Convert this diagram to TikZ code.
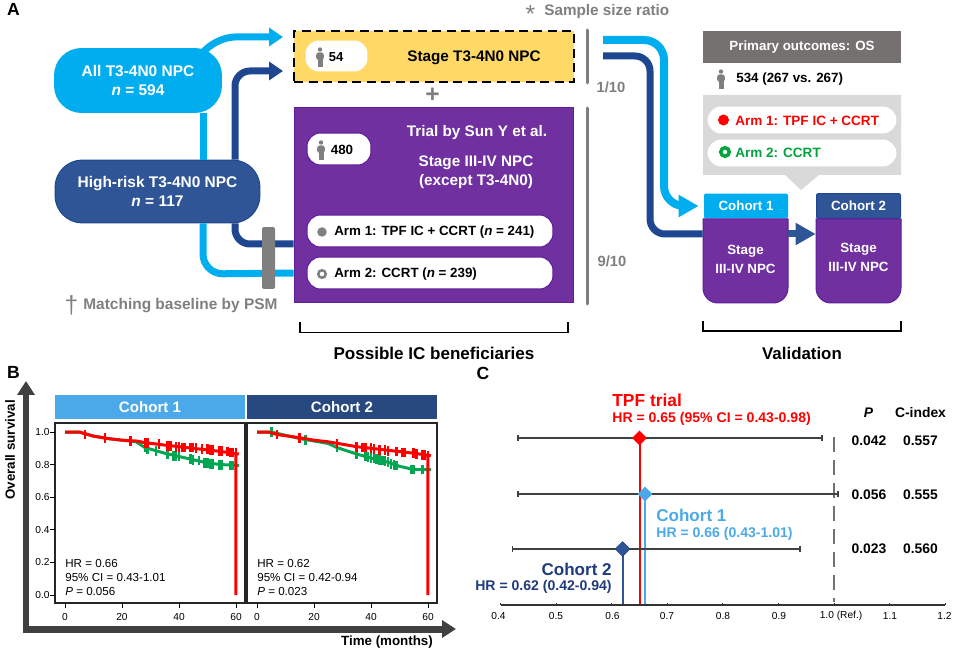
\documentclass[tikz,border=0pt]{standalone}
\usepackage{fontspec}
\setmainfont{Liberation Sans}
\usetikzlibrary{calc,arrows.meta,shapes.geometric}

\definecolor{allblue}{HTML}{00AEEF}
\definecolor{riskblue}{HTML}{2F5597}
\definecolor{riskedge}{HTML}{1F4690}
\definecolor{trialpurple}{HTML}{7030A0}
\definecolor{purpleedge}{HTML}{5E1D9B}
\definecolor{sizeyellow}{HTML}{FFD966}
\definecolor{midgray}{HTML}{7F7F7F}
\definecolor{headgray}{HTML}{767171}
\definecolor{palegray}{HTML}{D9D9D9}
\definecolor{axisgray}{HTML}{404040}
\definecolor{armgreen}{HTML}{00A33E}
\definecolor{kmgreen}{HTML}{00A651}
\definecolor{skyblue}{HTML}{4BA9EA}
\definecolor{navyblue}{HTML}{1F3A7D}

\tikzset{
    txt/.style={font=\bfseries\fontsize{#1}{10.8}\selectfont, inner sep=0pt},
    reg/.style={font=\fontsize{#1}{8}\selectfont, inner sep=0pt},
    pill/.style={draw=#1, line width=0.02cm, fill=white, rounded corners=0.27cm, inner sep=0pt},
    flowall/.style={draw=allblue, line width=0.14cm, rounded corners=0.4cm},
    flowrisk/.style={draw=riskedge, line width=0.14cm, rounded corners=0.3cm},
    headall/.style={-{Triangle[length=0.28cm,width=0.36cm]}},
    headbig/.style={-{Triangle[length=0.4cm,width=0.42cm]}},
    bar/.style={midgray, line width=0.06cm, line cap=round},
    brace/.style={black, line width=0.03cm},
    whisker/.style={axisgray, line width=0.035cm, {Bar[width=0.13cm]}-{Bar[width=0.13cm]}},
    kmline/.style={line width=0.06cm},
    kmtick/.style={line width=0.05cm},
    person/.pic={
        \fill[midgray] (0,-7.5) circle (2.2);
        \fill[midgray, rounded corners=0.05cm] (-3.8,-4.5) rectangle (3.8,3);
        \fill[midgray] (-2.5,2) rectangle (2.5,10.5);
    },
}

\begin{document}
\begin{tikzpicture}[x=0.02cm,y=-0.02cm]
    \useasboundingbox (0,0) rectangle (957,655);

    % panel A, flows go first
    \coordinate (lightrun) at (203,0);
    \coordinate (darkrun) at (235,0);
    \coordinate (armarow) at (0,244);
    \coordinate (armbrow) at (0,273);
    \coordinate (toplight) at (283,37);
    \coordinate (topdark) at (283,71);
    \coordinate (ratiolight) at (603,40);
    \coordinate (ratiodark) at (603,56);
    \coordinate (validrow) at (0,234);

    \node[minimum width=3.36cm, minimum height=1.3cm, fill=allblue, rounded corners=0.55cm, text=white, txt=8.8, align=center] (allpill) at (138,80.5) {All T3-4N0 NPC\\\textit{n} = 594};
    \node[minimum width=4.1cm, minimum height=1.26cm, fill=riskblue, draw=riskedge, line width=0.02cm, rounded corners=0.55cm, text=white, txt=8.8, align=center] (highpill) at (157.5,191.5) {High-risk T3-4N0 NPC\\\textit{n} = 117};
    \node[minimum width=5.6cm, minimum height=3.92cm, fill=trialpurple, draw=purpleedge, line width=0.02cm] (trialbox) at (434,205) {};
    \node[minimum width=5.6cm, minimum height=1.02cm, fill=sizeyellow, draw=black, line width=0.05cm, dash pattern=on 0.18cm off 0.11cm] (sizebox) at (434,56.5) {};

    \draw[flowall] (allpill.south -| lightrun) -- (highpill.north -| lightrun);
    \draw[flowall] (highpill.south -| lightrun) -- (203,274) -- (trialbox.west |- armbrow);
    \draw[flowall, headall] (205,50) -- (215,37) -- (toplight);
    \draw[flowrisk, headall, fill=none] (highpill.north -| darkrun) -- (235,71) -- (topdark);
    \draw[flowrisk] (highpill.south -| darkrun) -- (235,244) -- (trialbox.west |- armarow);

    \node[minimum width=0.26cm, minimum height=1.24cm, fill=midgray, rounded corners=0.04cm] (psmbar) at (268.5,258) {};

    \node[txt=8.8, text=midgray, anchor=west] (psmtext) at (83,306) {Matching baseline by PSM};
    \node[font=\fontsize{14}{14}\selectfont, inner sep=0pt, text=midgray] (psmmark) at (71.5,305) {†};

    \node[pill=sizeyellow, minimum width=1.26cm, minimum height=0.64cm] (sizepill) at (336.5,56) {};
    \pic at (320,57) {person};
    \node[txt=7.4] (sizecount) at (336,57) {54};
    \node[txt=8.7] (sizetext) at (474,57.5) {Stage T3-4N0 NPC};
    \node[txt=14, text=midgray] (plusmark) at (432.5,95.5) {+};

    \node[pill=purpleedge, minimum width=1.28cm, minimum height=0.64cm] (trialpill) at (339,149) {};
    \pic at (321,150) {person};
    \node[txt=7.6] (trialcount) at (342,150) {480};
    \node[txt=8.7, text=white] (trialname) at (477,133) {Trial by Sun Y et al.};
    \node[txt=8.7, text=white, align=center] (trialstage) at (476,172) {Stage III-IV NPC\\(except T3-4N0)};

    \node[pill=purpleedge, minimum width=4.92cm, minimum height=0.64cm] (armapill) at (430,231) {};
    \node[pill=purpleedge, minimum width=4.92cm, minimum height=0.64cm] (armbpill) at (430,273) {};
    \node[circle, fill=midgray, minimum size=0.19cm, inner sep=0pt] (armadot) at (322,232) {};
    \node[circle, draw=midgray, line width=0.05cm, fill=white, minimum size=0.15cm, inner sep=0pt] (armbdot) at (322,274) {};
    \node[txt=7.6, anchor=west] (armatext) at (334,232.5) {Arm 1: TPF IC + CCRT (\textit{n} = 241)};
    \node[txt=7.6, anchor=west] (armbtext) at (334,274.5) {Arm 2: CCRT (\textit{n} = 239)};

    \draw[brace] (300,322) -- (300,332.5) -- (568,332.5) -- (568,322);
    \node[txt=9.7] (possibletext) at (434,353) {Possible IC beneficiaries};

    \node[font=\fontsize{14}{14}\selectfont, inner sep=0pt, text=midgray] (ratiomark) at (530.5,14) {*};
    \node[txt=8.7, text=midgray, anchor=west] (ratiotext) at (544,12) {Sample size ratio};
    \draw[bar] (587,30) -- (587,83);
    \draw[bar] (587,108) -- (587,304);
    \node[txt=8.4, text=midgray] (ratioa) at (611,87.5) {1/10};
    \node[txt=8.4, text=midgray] (ratiob) at (612,261.5) {9/10};

    % outcome card
    \fill[palegray] (703,95) rectangle (901,175) (785,175) -- (801,190) -- (819,175) -- cycle;
    \node[minimum width=3.96cm, minimum height=0.64cm, fill=headgray, text=white, txt=7.6] (outhead) at (802,47) {Primary outcomes: OS};
    \node[minimum width=3.94cm, minimum height=0.62cm, fill=white] (outrow) at (802,79) {};
    \pic at (721,79) {person};
    \node[txt=7.6, anchor=west] (outcount) at (736,79.5) {534 (267 vs. 267)};
    \node[pill=white, minimum width=3.76cm, minimum height=0.52cm] (outa) at (802,120) {};
    \node[pill=white, minimum width=3.76cm, minimum height=0.52cm] (outb) at (802,153) {};
    \node[circle, fill=red, minimum size=0.22cm, inner sep=0pt] (outadot) at (723.5,120) {};
    \node[circle, draw=armgreen, line width=0.07cm, fill=white, minimum size=0.17cm, inner sep=0pt] (outbdot) at (725,152) {};
    \node[txt=7.7, text=red, anchor=west] (outatext) at (735,120.5) {Arm 1: TPF IC + CCRT};
    \node[txt=7.7, text=armgreen, anchor=west] (outbtext) at (735,153) {Arm 2: CCRT};

    % cohorts
    \node[minimum width=1.68cm, minimum height=0.5cm, fill=allblue, rounded corners=0.04cm, text=white, txt=7.6] (cohheada) at (746,206) {Cohort 1};
    \node[minimum width=1.68cm, minimum height=0.5cm, fill=riskblue, draw=riskedge, line width=0.02cm, rounded corners=0.04cm, text=white, txt=7.6] (cohheadb) at (858.5,206) {Cohort 2};
    \draw[fill=trialpurple, draw=purpleedge, line width=0.02cm] (703,219) [rounded corners=0.3cm] -- (703,303) -- (788,303) -- (788,260) [sharp corners] -- (788,219) -- cycle;
    \draw[fill=trialpurple, draw=purpleedge, line width=0.02cm] (816,219) [rounded corners=0.3cm] -- (816,303) -- (901,303) -- (901,260) [sharp corners] -- (901,219) -- cycle;
    \node[minimum width=1.7cm, text=white, txt=7.6, align=center] (cohbodya) at (745.5,259) {Stage\\III-IV NPC};
    \node[minimum width=1.7cm, text=white, txt=7.6, align=center] (cohbodyb) at (858.5,257) {Stage\\III-IV NPC};

    \draw[flowall, line width=0.16cm, headbig, shorten >=0.1cm] (ratiolight) -- (664,40) -- (664,206) -- (cohheada.west);
    \draw[flowrisk] (ratiodark) -- (650,56) -- (650,234) -- (cohbodya.west |- validrow);
    \draw[flowrisk, draw=riskblue, headbig] (cohbodya.east |- validrow) -- (cohbodyb.west |- validrow);

    \draw[brace] (703,321) -- (703,331) -- (901,331) -- (901,321);
    \node[txt=9.6] (validtext) at (802,353) {Validation};

    \node[txt=10] (labela) at (13.5,9) {A};
    \node[txt=10] (labelb) at (13.5,372) {B};
    \node[txt=10] (labelc) at (483,373) {C};

    % panel B
    \draw[axisgray, line width=0.14cm, -{Triangle[length=0.28cm,width=0.34cm]}] (26,630) -- (26,381);
    \draw[axisgray, line width=0.14cm, -{Triangle[length=0.28cm,width=0.34cm]}] (23,629) -- (456,629);
    \node[txt=7.6, rotate=90] (ylabel) at (10,450) {Overall survival};
    \node[txt=7.6] (xlabel) at (387,642) {Time (months)};

    \node[minimum width=3.8cm, minimum height=0.48cm, fill=skyblue, text=white, txt=8.6] (kmheada) at (150,407) {Cohort 1};
    \node[minimum width=3.8cm, minimum height=0.48cm, fill=riskblue!85!black, text=white, txt=8.6] (kmheadb) at (342,407) {Cohort 2};
    \node[minimum width=3.8cm, minimum height=3.6cm, draw=black!85, line width=0.025cm] (kmboxa) at (150,513) {};
    \node[minimum width=3.8cm, minimum height=3.6cm, draw=black!85, line width=0.025cm] (kmboxb) at (342,513) {};

    \foreach \s in {0.0,0.2,0.4,0.6,0.8,1.0} {
        \draw[line width=0.02cm] (50,{595-163*\s}) -- (55,{595-163*\s});
        \node[reg=5.8, anchor=east] (ytick\s) at (50,{595-163*\s}) {\s};
    }
    \foreach \t in {0,20,40,60} {
        \draw[line width=0.02cm] ({65+2.85*\t},603) -- ({65+2.85*\t},608);
        \draw[line width=0.02cm] ({257+2.85*\t},603) -- ({257+2.85*\t},608);
        \node[reg=5.8] (xticka\t) at ({65+2.85*\t},617) {\t};
        \node[reg=5.8] (xtickb\t) at ({257+2.85*\t},617) {\t};
    }

    \begin{scope}[shift={(65,595)},x=0.057cm,y=3.26cm]
        \draw[kmgreen, kmline] plot coordinates {(0,1) (5,1) (10,.975) (15,.96) (20,.95) (25,.94) (28,.905) (35,.87) (40,.85) (45,.83) (50,.81) (55,.80) (61,.795)};
        \foreach \t/\s in {28/.91,29/.895,32/.885,36/.865,38/.855,39/.855,40/.855,44/.835,45/.83,47/.825,49/.81,50/.81,51/.805,52/.805,54/.80,55/.80,58/.795,59/.795,60/.795}
            \draw[kmgreen, kmtick] (\t,\s-.03) -- (\t,\s+.03);
        \draw[red, kmline] (0,1) -- (5,1) -- (10,.975) -- (15,.96) -- (20,.95) -- (25,.945) -- (28,.935) -- (35,.92) -- (40,.91) -- (50,.89) -- (55,.88) -- (61,.865) (60,.865) -- (60,0);
        \foreach \t/\s in {7/.985,14/.965,23/.945,28/.935,29/.935,33/.925,36/.915,37/.915,39/.91,40/.91,41/.905,42/.905,44/.905,45/.905,46/.9,48/.895,50/.895,51/.89,52/.89,54/.885,55/.885,57/.88,58/.875,59/.875,60/.87}
            \draw[red, kmtick] (\t,\s-.03) -- (\t,\s+.03);
    \end{scope}
    \begin{scope}[shift={(257,595)},x=0.057cm,y=3.26cm]
        \draw[kmgreen, kmline] plot coordinates {(0,1) (5,1) (10,.98) (15,.96) (20,.945) (25,.93) (28,.905) (35,.865) (40,.84) (45,.82) (50,.79) (55,.77) (61,.77)};
        \foreach \t/\s in {5/1,17/.95,28/.905,35/.865,38/.85,39/.845,40/.84,41/.84,42/.835,43/.83,44/.825,45/.82,46/.815,47/.805,48/.80,49/.795,54/.77,55/.77,58/.77,60/.77}
            \draw[kmgreen, kmtick] (\t,\s-.03) -- (\t,\s+.03);
        \draw[red, kmline] (0,1) -- (4,1) -- (7,.985) -- (15,.965) -- (20,.95) -- (25,.94) -- (30,.925) -- (35,.91) -- (40,.90) -- (45,.89) -- (50,.88) -- (55,.87) -- (61,.855) (60,.855) -- (60,0);
        \foreach \t/\s in {7/.985,15/.965,28/.93,35/.91,37/.905,38/.905,40/.90,41/.895,43/.89,45/.89,46/.885,49/.88,51/.875,52/.875,55/.87,56/.865,58/.86,59/.86,60/.855}
            \draw[red, kmtick] (\t,\s-.03) -- (\t,\s+.03);
    \end{scope}

    \node[reg=6.6, anchor=west, align=left] (statsa) at (65,577.5) {HR = 0.66\\95\% CI = 0.43-1.01\\\textit{P} = 0.056};
    \node[reg=6.6, anchor=west, align=left] (statsb) at (257,577.5) {HR = 0.62\\95\% CI = 0.42-0.94\\\textit{P} = 0.023};

    % panel C
    \draw[headgray, line width=0.05cm, dash pattern=on 0.3cm off 0.16cm] (834,437) -- (834,602);
    \draw[red, line width=0.04cm] (639.5,438) -- (639.5,605);
    \draw[skyblue, line width=0.04cm] (645,494) -- (645,605);
    \draw[riskblue, line width=0.04cm] (622.5,549) -- (622.5,605);
    \draw[whisker] (517,438) -- (822.5,438);
    \draw[whisker] (517,494) -- (839,494);
    \draw[whisker] (511.5,549) -- (801,549);
    \node[diamond, fill=red, minimum size=0.3cm, inner sep=0pt] (marka) at (639.5,438) {};
    \node[diamond, fill=skyblue, minimum size=0.3cm, inner sep=0pt] (markb) at (645,494) {};
    \node[diamond, fill=riskblue, draw=navyblue, line width=0.01cm, minimum size=0.3cm, inner sep=0pt] (markc) at (622.5,549) {};

    \draw[black!80, line width=0.04cm] (500.5,605) -- (945,605);
    \foreach \k in {0,...,8}
        \draw[black!80, line width=0.02cm] ({500.5+55.6*\k},603) -- ({500.5+55.6*\k},605);
    \foreach \v/\x in {0.4/498.5,0.5/556,0.6/612.5,0.7/667,0.8/723,0.9/779,1.1/890,1.2/944.5}
        \node[reg=5.8] (ctick\v) at (\x,615.5) {\v};
    \node[reg=5.8] (ctickref) at (841,615.5) {1.0 (Ref.)};

    \node[txt=9.9, text=red, anchor=west] (tpfname) at (612,400.5) {TPF trial};
    \node[txt=8, text=red, anchor=west] (tpfhr) at (612,418.5) {HR = 0.65 (95\% CI = 0.43-0.98)};
    \node[txt=9.7, text=skyblue, anchor=west] (cohaname) at (656,515.5) {Cohort 1};
    \node[txt=8, text=skyblue, anchor=west] (cohahr) at (656,533.5) {HR = 0.66 (0.43-1.01)};
    \node[txt=9.7, text=navyblue, anchor=east] (cohbname) at (612,569) {Cohort 2};
    \node[txt=8, text=navyblue, anchor=east] (cohbhr) at (612,587) {HR = 0.62 (0.42-0.94)};

    \node[txt=7.9] (phead) at (868.5,413) {\textit{P}};
    \node[txt=7.9] (chead) at (920.5,413) {C-index};
    \node[txt=7.9] (pa) at (869,441) {0.042};
    \node[txt=7.9] (ca) at (920.5,441) {0.557};
    \node[txt=7.9] (pb) at (869,494.5) {0.056};
    \node[txt=7.9] (cb) at (920.5,494.5) {0.555};
    \node[txt=7.9] (pc) at (869,549) {0.023};
    \node[txt=7.9] (cc) at (920.5,549) {0.560};
\end{tikzpicture}
\end{document}
